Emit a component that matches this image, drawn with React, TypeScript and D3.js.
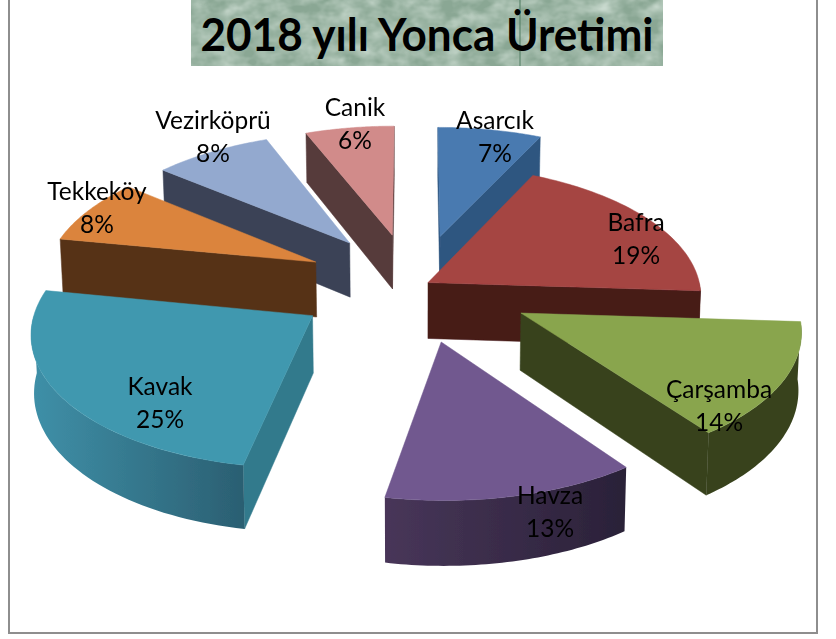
import React from "react";
import * as d3 from "d3";

const titleText = "2018 yılı Yonca Üretimi";
const categories = ["Asarcık", "Bafra", "Çarşamba", "Havza", "Kavak", "Tekkeköy", "Vezirköprü", "Canik"];
const values = [7, 19, 14, 13, 25, 8, 8, 6];
const explode = [115, 14, 115, 115, 115, 115, 115, 115];
const nudgeX = [1, 1, 3, 0, -5, 3, 0, -2];
const nudgeY = [2, 0, 0, 0, -2, -1, 0, 1];
const topColors = ["#4a7ab0", "#a54442", "#89a54e", "#71588f", "#4198af", "#db843d", "#93a9cf", "#d18b8a"];
const faceColors = ["#2f5680", "#471b19", "#38431d", "#2a2138", "#327a8c", "#573318", "#3b4256", "#563b3b"];
const wallFrom = ["#2f5680", "#471b19", "#38431d", "#483659", "#3f90a8", "#573318", "#3b4256", "#563b3b"];
const wallTo = ["#2f5680", "#471b19", "#38431d", "#2a2138", "#2b5f72", "#573318", "#3b4256", "#563b3b"];
const labelX = [495, 636, 719, 550, 160, 97, 213, 355];
const labelY = [120, 222, 389, 495, 386, 191, 120, 107];
const drawOrder = [0, 7, 6, 5, 1, 4, 3, 2];

const CX = 415;
const CY = 286;
const R = 272;
const K = 0.478;
const P = 0.000374;
const H = 56;

const persp = (v: number) => 1 / (1 - P * v);
function project(u: number, v: number) {
  const f = persp(v);
  return { x: CX + u * f, y: CY + v * K * f, f };
}
const bottom = (p: { x: number; y: number; f: number }) => ({ x: CX + (p.x - CX) * 0.992, y: p.y + H * p.f, f: p.f });
const line = d3.line<{ x: number; y: number }>().x((d) => d.x).y((d) => d.y);

const pieGen = d3.pie<number>().sort(null).startAngle(0).endAngle(2 * Math.PI);
const arcs = pieGen(values);

function buildSlice(i: number) {
  const a = arcs[i];
  const mid = (a.startAngle + a.endAngle) / 2;
  const ou = explode[i] * Math.sin(mid);
  const ov = -explode[i] * Math.cos(mid);
  const rim = (t: number) => project(ou + R * Math.sin(t), ov - R * Math.cos(t));
  const tip = project(ou, ov);
  const ts = d3.range(0, 49).map((j) => a.startAngle + ((a.endAngle - a.startAngle) * j) / 48);
  const rimPts = ts.map(rim);
  const top = (line([tip, ...rimPts]) as string) + "Z";
  const mp = rim(mid);
  const faces: string[] = [];
  [a.startAngle, a.endAngle].forEach((t) => {
    const r = rim(t);
    const ex = r.x - tip.x;
    const ey = r.y - tip.y;
    const crossDown = ex;
    const crossIn = ex * (mp.y - tip.y) - ey * (mp.x - tip.x);
    if (crossDown * crossIn < 0) {
      faces.push((line([tip, r, bottom(r), bottom(tip)]) as string) + "Z");
    }
  });
  const lo = Math.max(a.startAngle, Math.PI / 2);
  const hi = Math.min(a.endAngle, (3 * Math.PI) / 2);
  let wall: string | null = null;
  let xr: [number, number] = [0, 1];
  if (hi > lo) {
    const wt = d3.range(0, 49).map((j) => lo + ((hi - lo) * j) / 48);
    const up = wt.map(rim);
    const dn = up.map(bottom).reverse();
    wall = (line([...up, ...dn]) as string) + "Z";
    xr = d3.extent(up, (d) => d.x) as [number, number];
  }
  return { top, faces, wall, xr };
}

export default function App() {
  return (
    <svg width={836} height={639} style={{ position: "absolute", left: 0, top: 0, background: "#fff" }}>
      <defs>
        <filter id="marble" x="0" y="0" width="100%" height="100%">
          <feTurbulence type="fractalNoise" baseFrequency="0.05 0.07" numOctaves={3} seed={11} />
          <feColorMatrix
            type="matrix"
            values="0 0 0 0 0.70  0 0 0 0 0.80  0 0 0 0 0.73  0.8 0.8 0 0 -0.55"
          />
        </filter>
        <filter id="soft" x="-5%" y="-5%" width="110%" height="110%">
          <feGaussianBlur stdDeviation="0.45" />
        </filter>
        {categories.map((c, i) => {
          const s = buildSlice(i);
          return (
            <linearGradient key={c} id={`wall${i}`} gradientUnits="userSpaceOnUse" x1={s.xr[0]} x2={s.xr[1]} y1={0} y2={0}>
              <stop offset="0" stopColor={wallFrom[i]} />
              <stop offset="1" stopColor={wallTo[i]} />
            </linearGradient>
          );
        })}
      </defs>
      <rect x={9} y={-6} width={808} height={639} fill="#fff" stroke="#8e8e8e" strokeWidth={2} />
      <g>
        <rect x={191} y={0} width={472} height={66} fill="#8aa794" />
        <rect x={191} y={0} width={472} height={66} filter="url(#marble)" />
        <line x1={520} x2={520} y1={0} y2={66} stroke="#4f7a60" strokeWidth={1} />
        <text
          x={427}
          y={51}
          textAnchor="middle"
          textLength={453}
          lengthAdjust="spacingAndGlyphs"
          fontFamily="Lato, 'Open Sans', sans-serif"
          fontWeight={700}
          fontSize={45}
          fill="#000"
        >
          {titleText}
        </text>
      </g>
      <g filter="url(#soft)">
        {drawOrder.map((i) => {
          const s = buildSlice(i);
          return (
            <g key={categories[i]} transform={`translate(${nudgeX[i]},${nudgeY[i]})`}>
              {s.faces.map((d, j) => (
                <path key={j} d={d} fill={faceColors[i]} stroke={faceColors[i]} strokeWidth={0.5} />
              ))}
              {s.wall && <path d={s.wall} fill={`url(#wall${i})`} />}
              <path d={s.top} fill={topColors[i]} stroke={topColors[i]} strokeWidth={0.5} />
            </g>
          );
        })}
      </g>
      <g fontFamily="Lato, 'Open Sans', sans-serif" fontSize={24.5} fill="#000" textAnchor="middle">
        {categories.map((c, i) => (
          <g key={c}>
            <text x={labelX[i]} y={labelY[i] + 9}>{c}</text>
            <text x={labelX[i]} y={labelY[i] + 42}>{values[i]}%</text>
          </g>
        ))}
      </g>
    </svg>
  );
}
